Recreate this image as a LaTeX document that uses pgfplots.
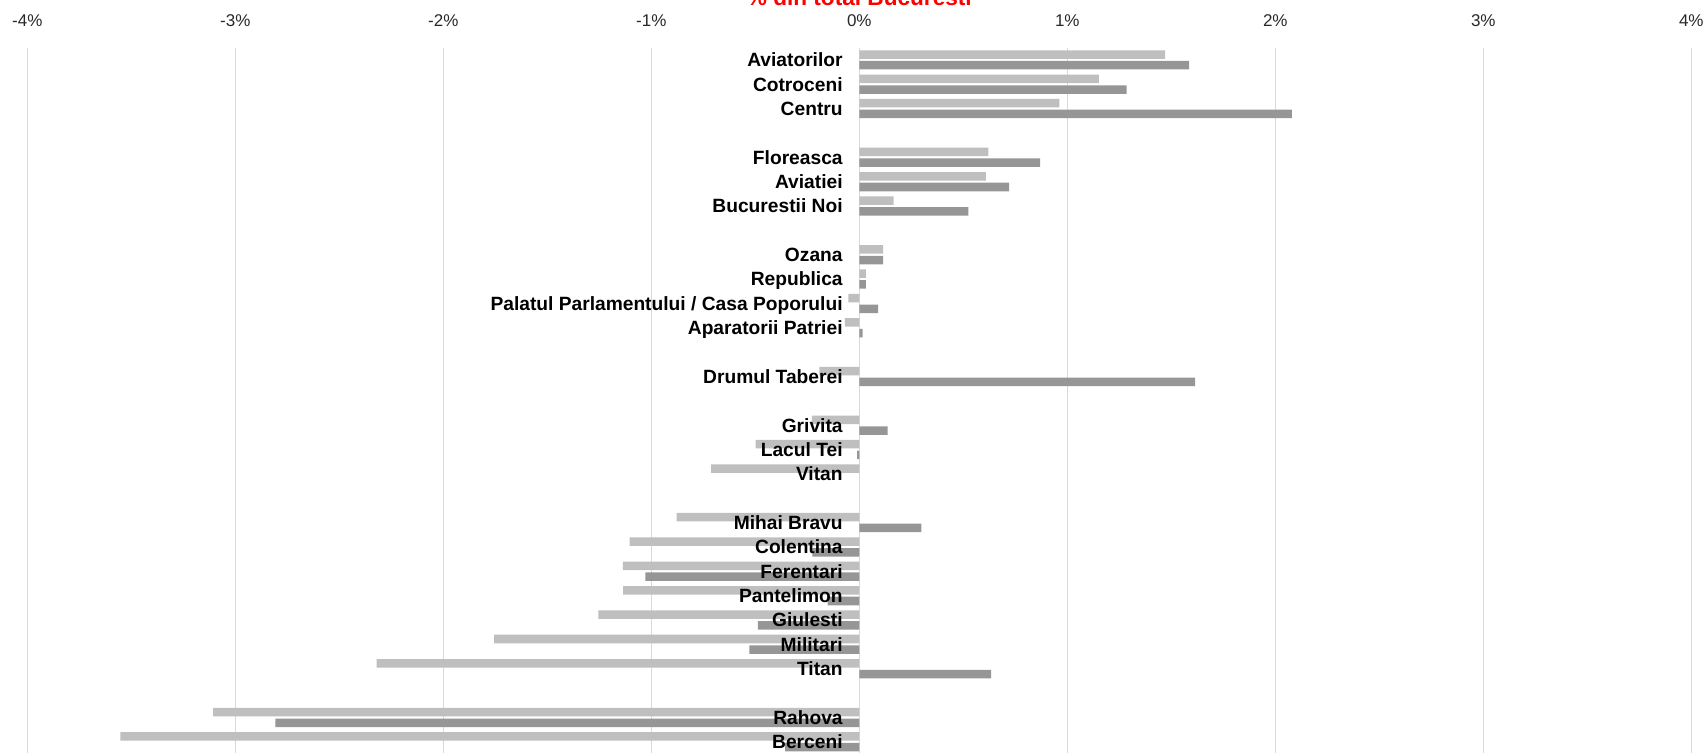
\documentclass[border=0pt]{standalone}
\usepackage{fontspec}
\setmainfont{Liberation Sans}
\usepackage{pgfplots}
\pgfplotsset{compat=1.18}
\definecolor{lightbar}{RGB}{191,191,191}
\definecolor{darkbar}{RGB}{150,150,150}
\definecolor{gridc}{RGB}{217,217,217}
\definecolor{tickc}{RGB}{40,40,40}
\begin{document}
\begin{tikzpicture}
\begin{axis}[
  scale only axis, width=832pt, height=352.5pt,
  xmin=-4, xmax=4, ymin=-29.45, ymax=-0.5,
  axis x line=top, axis y line=middle,
  hide obscured x ticks=false, hide obscured y ticks=false,
  axis line style={-},
  x axis line style={draw=none},
  y axis line style={draw=gridc, line width=0.6pt},
  xtick={-4,-3,-2,-1,0,1,2,3,4},
  xticklabels={-4\%,-3\%,-2\%,-1\%,0\%,1\%,2\%,3\%,4\%},
  xmajorgrids, major grid style={gridc, line width=0.6pt},
  major tick length=0pt,
  xticklabel style={anchor=base, inner sep=0pt, yshift=10.5pt, font=\fontsize{8.5}{10}\selectfont, text=tickc},
  ytick=\empty,
  clip=false,
]
\addplot[xbar, bar width=0.35, draw=none, fill=lightbar, bar shift=0.22] coordinates {
(1.470,-1) (1.152,-2) (0.962,-3)
(0.620,-5) (0.609,-6) (0.165,-7)
(0.114,-9) (0.032,-10) (-0.053,-11) (-0.069,-12)
(-0.192,-14)
(-0.228,-16) (-0.498,-17) (-0.712,-18)
(-0.878,-20) (-1.104,-21) (-1.137,-22) (-1.136,-23) (-1.254,-24) (-1.756,-25) (-2.321,-26)
(-3.107,-28) (-3.553,-29)
};
\addplot[xbar, bar width=0.35, draw=none, fill=darkbar, bar shift=-0.22] coordinates {
(1.585,-1) (1.285,-2) (2.080,-3)
(0.869,-5) (0.720,-6) (0.524,-7)
(0.114,-9) (0.032,-10) (0.090,-11) (0.016,-12)
(1.615,-14)
(0.136,-16) (-0.010,-17)
(0.298,-20) (-0.226,-21) (-1.028,-22) (-0.152,-23) (-0.488,-24) (-0.529,-25) (0.634,-26)
(-2.807,-28) (-0.357,-29)
};
\addplot[only marks, mark=none, point meta=explicit symbolic,
  nodes near coords,
  nodes near coords style={anchor=base east, inner sep=0pt, xshift=-8.15pt, yshift=-3.44pt,
    font=\fontsize{9.6}{11}\selectfont\bfseries, text=black}]
coordinates {
(0,-1) [Aviatorilor] (0,-2) [Cotroceni] (0,-3) [Centru]
(0,-5) [Floreasca] (0,-6) [Aviatiei] (0,-7) [Bucurestii Noi]
(0,-9) [Ozana] (0,-10) [Republica] (0,-11) [Palatul Parlamentului / Casa Poporului] (0,-12) [Aparatorii Patriei]
(0,-14) [Drumul Taberei]
(0,-16) [Grivita] (0,-17) [Lacul Tei] (0,-18) [Vitan]
(0,-20) [Mihai Bravu] (0,-21) [Colentina] (0,-22) [Ferentari] (0,-23) [Pantelimon] (0,-24) [Giulesti] (0,-25) [Militari] (0,-26) [Titan]
(0,-28) [Rahova] (0,-29) [Berceni]
};
\end{axis}
\node[anchor=base, text=red, font=\fontsize{11.3}{13}\selectfont\bfseries] at ([yshift=21.35pt]current axis.north) {\% din total Bucuresti};
\pgfresetboundingbox
\path[use as bounding box] ([xshift=-13.65pt]current axis.south west) rectangle ([xshift=8.35pt,yshift=23.85pt]current axis.north east);
\end{tikzpicture}
\end{document}
